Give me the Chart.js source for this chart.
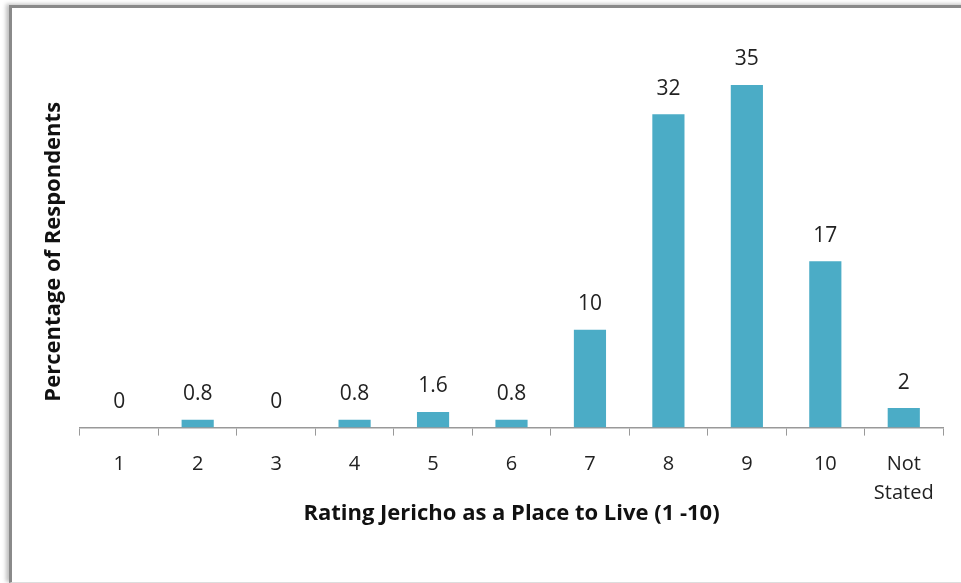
<!DOCTYPE html>
<html>
<head>
<meta charset="utf-8">
<script src="https://cdn.jsdelivr.net/npm/chart.js@4"></script>
<style>
    html, body { margin: 0; padding: 0; background: #fff; }
    #frame {
        position: absolute; left: 9px; top: 5px; width: 960px; height: 574px;
        border-left: 3px solid #8a8a8a; border-top: 3px solid #8a8a8a;
        border-bottom: 1px solid #ddd;
        box-shadow: -3px -1px 4px rgba(0,0,0,0.25);
    }
    #ratingChart { position: absolute; left: 0; top: 0; }
</style>
</head>
<body>
<div id="frame"></div>
<canvas id="ratingChart" width="961" height="583"></canvas>
<script>
const ratingLabels = ['1', '2', '3', '4', '5', '6', '7', '8', '9', '10', ['Not', 'Stated']];
const ratingValues = [0, 0.8, 0, 0.8, 1.6, 0.8, 10, 32, 35, 17, 2];
const yTitle = 'Percentage of Respondents';

// value labels above each bar + the y axis title (sits a bit lower than chart.js would centre it)
const valueLabels = {
    id: 'valueLabels',
    afterDatasetsDraw(chart) {
        const ctx = chart.ctx;
        const meta = chart.getDatasetMeta(0);
        ctx.save();
        ctx.font = '21px "Open Sans", sans-serif';
        ctx.fillStyle = '#222';
        ctx.textAlign = 'center';
        ctx.textBaseline = 'bottom';
        meta.data.forEach(function(bar, i) {
            ctx.fillText(String(ratingValues[i]), bar.x, bar.y - 15);
        });
        ctx.restore();

        ctx.save();
        ctx.font = 'bold 22px "Open Sans", sans-serif';
        ctx.fillStyle = '#111';
        ctx.textAlign = 'center';
        ctx.textBaseline = 'middle';
        ctx.translate(chart.chartArea.left - 26, (chart.chartArea.top + chart.chartArea.bottom) / 2 + 20);
        ctx.rotate(-Math.PI / 2);
        ctx.fillText(yTitle, 0, 0);
        ctx.restore();
    }
};

const ratingData = {
    labels: ratingLabels,
    datasets: [{
        data: ratingValues,
        backgroundColor: '#4bacc6',
        barPercentage: 0.41,
        categoryPercentage: 1,
    }]
};

const ratingConfig = {
    type: 'bar',
    data: ratingData,
    options: {
        responsive: false,
        animation: false,
        layout: {
            padding: { left: 80, right: 18, top: 36, bottom: 56 }
        },
        scales: {
            x: {
                grid: {
                    offset: true,
                    drawOnChartArea: false,
                    drawTicks: true,
                    tickLength: 8,
                    color: '#999',
                },
                border: { color: '#999', width: 1.5 },
                ticks: {
                    color: '#222',
                    font: { family: '"Open Sans", sans-serif', size: 20, lineHeight: 1.45 },
                    padding: 14,
                    maxRotation: 0,
                },
                title: {
                    display: true,
                    text: 'Rating Jericho as a Place to Live (1 -10)',
                    color: '#111',
                    font: { family: '"Open Sans", sans-serif', size: 22, weight: 'bold' },
                    padding: { top: -21, bottom: 0 },
                }
            },
            y: {
                display: false,
                min: 0,
                max: 40,
            }
        },
        plugins: {
            legend: { display: false },
            tooltip: { enabled: false },
        }
    },
    plugins: [valueLabels],
};

const ratingCtx = document.getElementById('ratingChart').getContext('2d');
new Chart(ratingCtx, ratingConfig);
</script>
</body>
</html>
